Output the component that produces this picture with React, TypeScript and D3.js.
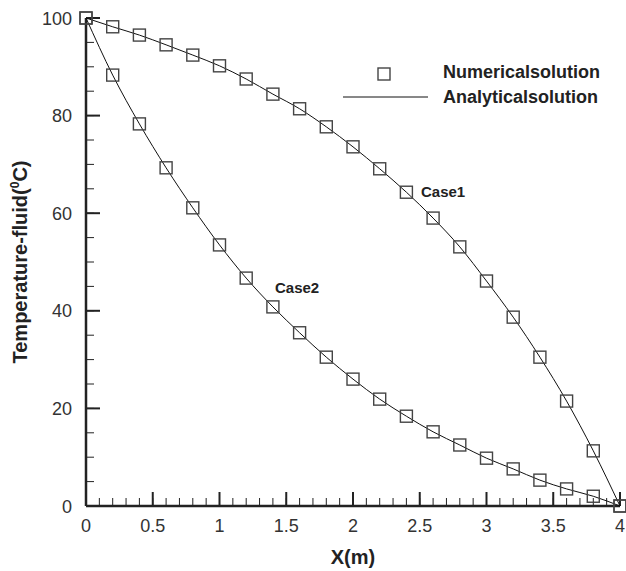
import React from "react";
import * as d3 from "d3";

const xs = [0, 0.2, 0.4, 0.6, 0.8, 1.0, 1.2, 1.4, 1.6, 1.8, 2.0, 2.2, 2.4, 2.6, 2.8, 3.0, 3.2, 3.4, 3.6, 3.8, 4.0];
const case1 = [100, 98.2, 96.5, 94.5, 92.4, 90.2, 87.5, 84.4, 81.4, 77.7, 73.6, 69.1, 64.3, 59.0, 53.1, 46.1, 38.7, 30.5, 21.5, 11.3, 0];
const case2 = [100, 88.3, 78.3, 69.3, 61.1, 53.5, 46.7, 40.8, 35.5, 30.5, 26.0, 21.9, 18.4, 15.2, 12.5, 9.8, 7.6, 5.3, 3.5, 2.0, 0];
const xTicks = [0, 0.5, 1, 1.5, 2, 2.5, 3, 3.5, 4];
const yTicks = [0, 20, 40, 60, 80, 100];
const xMinor = d3.range(0, 41).map((i) => i / 10);
const yMinor = d3.range(0, 21).map((i) => i * 5);
const legendLabels = ["Numericalsolution", "Analyticalsolution"];

const W = 626;
const H = 571;
const left = 86, right = 620, top = 18, bottom = 506;

export default function App() {
  const x = d3.scaleLinear().domain([0, 4]).range([left, right]);
  const y = d3.scaleLinear().domain([0, 100]).range([bottom, top]);
  const line = d3
    .line<number>()
    .x((_, i) => x(xs[i]))
    .y((d) => y(d))
    .curve(d3.curveMonotoneX);
  const font = "Arial, 'Liberation Sans', sans-serif";
  const sq = 12;
  const markers = (data: number[], key: string) =>
    data.map((v, i) => (
      <rect
        key={key + i}
        x={x(xs[i]) - sq / 2}
        y={y(v) - sq / 2}
        width={sq}
        height={sq}
        fill="none"
        stroke="#444"
        strokeWidth={1.4}
      />
    ));
  return (
    <svg width={W} height={H} style={{ position: "absolute", left: 0, top: 0, background: "#fff" }} fontFamily={font}>
      <rect x={0} y={0} width={W} height={H} fill="#fff" />
      {xMinor.map((t) => (
        <line key={"xm" + t} x1={x(t)} x2={x(t)} y1={bottom} y2={bottom - 8} stroke="#222" strokeWidth={1} />
      ))}
      {yMinor.map((t) => (
        <line key={"ym" + t} x1={left} x2={left + 8} y1={y(t)} y2={y(t)} stroke="#222" strokeWidth={1} />
      ))}
      {xTicks.map((t) => (
        <g key={"xt" + t}>
          <line x1={x(t)} x2={x(t)} y1={bottom} y2={bottom - 14} stroke="#222" strokeWidth={2} />
          <text x={x(t)} y={532} textAnchor="middle" fontSize={18} fill="#333">
            {t}
          </text>
        </g>
      ))}
      {yTicks.map((t) => (
        <g key={"yt" + t}>
          <line x1={left} x2={left + 14} y1={y(t)} y2={y(t)} stroke="#222" strokeWidth={2} />
          <text x={72} y={y(t) + 6.5} textAnchor="end" fontSize={18} fill="#333">
            {t}
          </text>
        </g>
      ))}
      <line x1={left} x2={right} y1={bottom} y2={bottom} stroke="#222" strokeWidth={2.5} />
      <line x1={left} x2={left} y1={top} y2={bottom} stroke="#222" strokeWidth={2.5} />

      <path d={line(case1) || ""} fill="none" stroke="#111" strokeWidth={1} />
      <path d={line(case2) || ""} fill="none" stroke="#111" strokeWidth={1} />
      {markers(case1, "a")}
      {markers(case2, "b")}

      <text x={421} y={197} fontSize={15} fontWeight="bold" fill="#222">Case1</text>
      <text x={275} y={293} fontSize={15} fontWeight="bold" fill="#222">Case2</text>

      <rect x={378} y={68} width={12} height={12} fill="none" stroke="#444" strokeWidth={1.4} />
      <text x={443} y={78} fontSize={18} fontWeight="bold" fill="#222">{legendLabels[0]}</text>
      <line x1={343} x2={428} y1={97} y2={97} stroke="#111" strokeWidth={1} />
      <text x={443} y={103} fontSize={18} fontWeight="bold" fill="#222">{legendLabels[1]}</text>

      <text x={353} y={564} textAnchor="middle" fontSize={20} fontWeight="bold" fill="#222">X(m)</text>
      <text transform="translate(27,262) rotate(-90)" textAnchor="middle" fontSize={20} fontWeight="bold" fill="#222">
        Temperature-fluid(<tspan fontSize={12} dy={-8}>0</tspan><tspan dy={8}>C)</tspan>
      </text>
    </svg>
  );
}
